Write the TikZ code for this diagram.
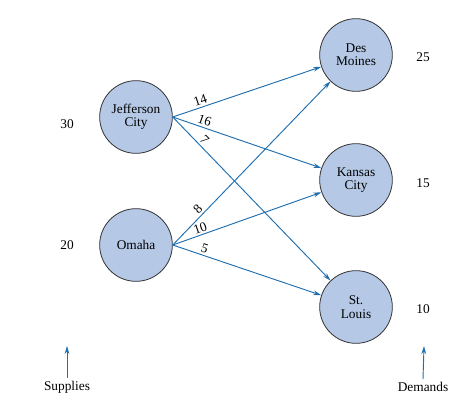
\documentclass[tikz,border=0pt]{standalone}
\usepackage{fontspec}
\setmainfont{Liberation Serif}
\usetikzlibrary{arrows.meta}
\definecolor{nodefill}{HTML}{B5C9E6}
\definecolor{arrowblue}{HTML}{1E6EB0}
\definecolor{ringgray}{HTML}{333333}
\begin{document}
\begin{tikzpicture}[x=0.75pt,y=-0.75pt,
  city/.style={circle,draw=ringgray,line width=0.6pt,fill=nodefill,minimum size=54.5pt,inner sep=0pt,align=center,font=\fontsize{10}{10}\selectfont},
  flow/.style={draw=arrowblue,line width=0.7pt,-{Stealth[length=6pt,width=3.5pt]}},
  cost/.style={sloped,above,font=\fontsize{10}{10}\selectfont,inner sep=1.5pt},
  plain/.style={font=\fontsize{10}{10}\selectfont,inner sep=0pt}]
\useasboundingbox (0,0) rectangle (466,410);
\node[city] (jc) at (136,117) {Jefferson\\City};
\node[city] (om) at (136,245) {Omaha};
\node[city] (dm) at (356,55) {Des\\Moines};
\node[city] (kc) at (356,180) {Kansas\\City};
\node[city] (sl) at (356,307) {St.\\Louis};
\node[plain] (s30) at (67,124) {30};
\node[plain] (s20) at (67,245) {20};
\node[plain] (d25) at (423,57) {25};
\node[plain] (d15) at (423,183) {15};
\node[plain] (d10) at (423,309) {10};
\draw[flow] (jc.east) -- node[cost,pos=0.2] {14} (dm);
\draw[flow] (jc.east) -- node[cost,pos=0.2] {16} (kc);
\draw[flow] (jc.east) -- node[cost,pos=0.17] {7} (sl);
\draw[flow] (om.east) -- node[cost,pos=0.19] {8} (dm);
\draw[flow] (om.east) -- node[cost,pos=0.2] {10} (kc);
\draw[flow] (om.east) -- node[cost,pos=0.2] {5} (sl);
\node[plain] (sup) at (67,387) {Supplies};
\node[plain] (dem) at (423,387) {Demands};
\coordinate (supt) at (67,346);
\coordinate (demt) at (424,346);
\draw[flow] (sup.north) ++(0,-3) coordinate (supb) -- (supt);
\draw[flow] (dem.north) ++(0,-3) coordinate (demb) -- (demt);
\end{tikzpicture}
\end{document}
